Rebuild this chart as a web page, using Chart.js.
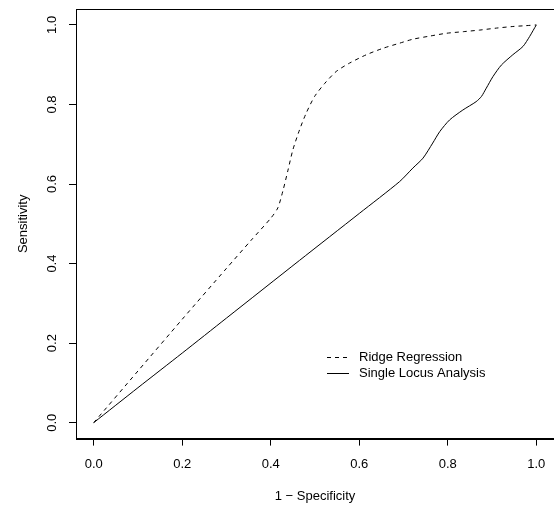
<!DOCTYPE html>
<html>
<head>
<meta charset="utf-8">
<script src="https://cdn.jsdelivr.net/npm/chart.js@4/dist/chart.umd.min.js"></script>
<style>
html,body{margin:0;padding:0;background:#fff;overflow:hidden;}
#wrap{width:554px;height:506px;position:relative;}
</style>
</head>
<body>
<div id="wrap"><canvas id="c" width="554" height="506"></canvas></div>
<script>
// ---- data ----
const ridgeX = [0, 0.1, 0.2, 0.3, 0.356, 0.40, 0.416, 0.428, 0.439, 0.450, 0.465, 0.480, 0.499, 0.522, 0.548, 0.578, 0.616, 0.653, 0.691, 0.721, 0.760, 0.797, 0.835, 0.872, 0.910, 0.947, 0.975, 1.0];
const ridgeY = [0, 0.130, 0.260, 0.388, 0.459, 0.514, 0.540, 0.585, 0.635, 0.686, 0.736, 0.778, 0.820, 0.853, 0.883, 0.904, 0.925, 0.941, 0.954, 0.964, 0.972, 0.979, 0.983, 0.987, 0.992, 0.996, 0.998, 1.0];
const locusX = [0, 0.1, 0.2, 0.3, 0.465, 0.6, 0.691, 0.721, 0.744, 0.766, 0.782, 0.804, 0.834, 0.864, 0.876, 0.887, 0.902, 0.921, 0.947, 0.970, 0.985, 1.0];
const locusY = [0, 0.088, 0.175, 0.263, 0.408, 0.526, 0.606, 0.640, 0.665, 0.703, 0.732, 0.761, 0.786, 0.807, 0.820, 0.841, 0.870, 0.899, 0.925, 0.946, 0.971, 1.0];
const xTicks = [0, 0.2, 0.4, 0.6, 0.8, 1.0];
const yTicks = [0, 0.2, 0.4, 0.6, 0.8, 1.0];
const seriesNames = ["Ridge Regression", "Single Locus Analysis"];
const xTitle = "1 \u2212 Specificity";
const yTitle = "Sensitivity";

const FONT = "'Liberation Sans', Arial, Helvetica, sans-serif";
const FS = 13;
const toPts = (xs, ys) => xs.map((x, i) => ({x: x, y: ys[i]}));

const boxPlugin = {
  id: 'box',
  afterDraw(chart) {
    const {ctx, chartArea: a} = chart;
    ctx.save();
    ctx.strokeStyle = '#000';
    ctx.lineWidth = 1;
    ctx.strokeRect(Math.round(a.left) + 0.5, Math.round(a.top) + 0.5, Math.round(a.right - a.left), Math.round(a.bottom - a.top));
    // legend
    const ds = chart.data.datasets;
    const rows = [357, 373];
    ctx.font = FS + 'px ' + FONT;
    ctx.textBaseline = 'middle';
    ctx.textAlign = 'left';
    ctx.fillStyle = '#000';
    ds.forEach((d, i) => {
      ctx.beginPath();
      ctx.setLineDash(d.borderDash || []);
      ctx.strokeStyle = d.borderColor;
      ctx.lineWidth = 1;
      ctx.moveTo(327, rows[i] + 0.5);
      ctx.lineTo(349, rows[i] + 0.5);
      ctx.stroke();
      ctx.setLineDash([]);
      ctx.fillText(d.label, 359, rows[i] + 0.5);
    });
    ctx.restore();
  }
};

new Chart(document.getElementById('c'), {
  type: 'scatter',
  data: {
    datasets: [
      {label: seriesNames[0], data: toPts(ridgeX, ridgeY), showLine: true, borderColor: '#000', borderWidth: 1, borderDash: [4, 4], pointRadius: 0, tension: 0.25, fill: false},
      {label: seriesNames[1], data: toPts(locusX, locusY), showLine: true, borderColor: '#000', borderWidth: 1, pointRadius: 0, tension: 0.25, fill: false}
    ]
  },
  options: {
    responsive: false,
    animation: false,
    events: [],
    layout: {padding: {top: 9, right: 0, left: 0, bottom: 0}},
    plugins: {legend: {display: false}, tooltip: {enabled: false}},
    scales: {
      x: {
        type: 'linear', min: -0.04, max: 1.04,
        afterBuildTicks: s => { s.ticks = xTicks.map(v => ({value: v})); },
        afterFit: s => { s.height = 67.4; s.paddingLeft = 0; s.paddingRight = 0; },
        grid: {drawOnChartArea: false, drawTicks: true, tickLength: 7, color: '#000', lineWidth: 1},
        border: {display: true, color: '#000', width: 1},
        ticks: {color: '#000', font: {family: FONT, size: FS}, padding: 11, maxRotation: 0, minRotation: 0, callback: v => Number(v).toFixed(1)},
        title: {display: true, text: xTitle, color: '#000', font: {family: FONT, size: FS}, padding: {top: 0, bottom: 2}}
      },
      y: {
        type: 'linear', min: -0.04, max: 1.04,
        afterBuildTicks: s => { s.ticks = yTicks.map(v => ({value: v})); },
        afterFit: s => { s.width = 76; s.paddingTop = 0; s.paddingBottom = 0; },
        grid: {drawOnChartArea: false, drawTicks: true, tickLength: 7, color: '#000', lineWidth: 1},
        border: {display: true, color: '#000', width: 1},
        ticks: {color: '#000', font: {family: FONT, size: FS}, padding: 8, minRotation: 90, maxRotation: 90, crossAlign: 'center', callback: v => Number(v).toFixed(1)},
        title: {display: true, text: yTitle, color: '#000', font: {family: FONT, size: FS}, padding: {top: 16, bottom: 0}}
      }
    }
  },
  plugins: [boxPlugin]
});
</script>
</body>
</html>
